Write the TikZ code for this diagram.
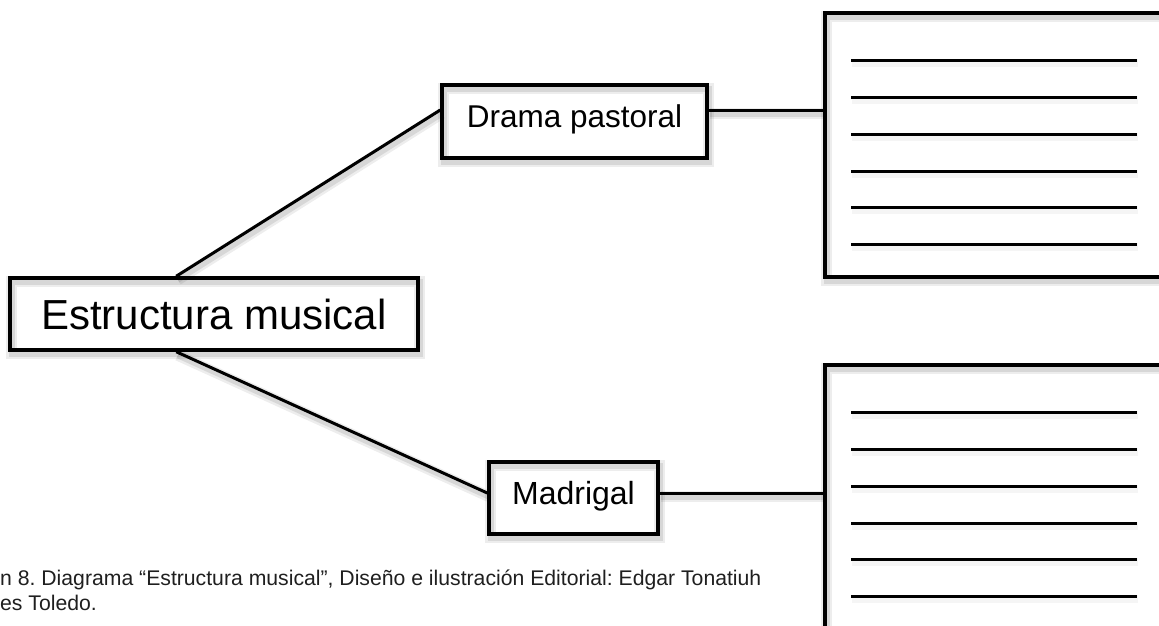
\documentclass[tikz,border=0pt]{standalone}
\usepackage{fontspec}
\setmainfont{Liberation Sans}
\usetikzlibrary{calc}
\frenchspacing
\tikzset{
  shad/.style={
    preaction={draw=black,opacity=0.07,line width=11pt,transform canvas={xshift=1.5pt,yshift=-3.5pt}},
    preaction={draw=black,opacity=0.09,line width=6pt,transform canvas={xshift=1.5pt,yshift=-3.5pt}}},
  lightshad/.style={
    preaction={draw=black,opacity=0.04,line width=8pt,transform canvas={xshift=1pt,yshift=-3pt}}},
  labelbox/.style={draw=black,line width=3.5pt,shad,inner sep=0pt,text=black},
  sheet/.style={draw=black,line width=4pt,shad,inner sep=0pt},
  conn/.style={draw=black,line width=3pt,shad},
  rule/.style={draw=black,line width=3pt,lightshad},
  captiontext/.style={font=\fontsize{21.2}{25}\selectfont,anchor=base west,inner sep=0pt,text=black!88}
}
\begin{document}
\begin{tikzpicture}[x=1pt,y=-1pt]
\fill[white] (0,0) rectangle (1159,625);
\useasboundingbox (0,0) rectangle (1159,625);
\clip (0,0) rectangle (1159,625);

% main nodes
\node[labelbox,minimum width=408pt,minimum height=72pt,font=\fontsize{42}{48}\selectfont] (est) at (214,314) {Estructura musical};
\node[labelbox,minimum width=265pt,minimum height=73pt,font=\fontsize{31.5}{36}\selectfont,text height=23pt,text depth=11pt] (drama) at (574.5,121.5) {Drama pastoral};
\node[labelbox,minimum width=169pt,minimum height=72pt,font=\fontsize{32}{37}\selectfont,text height=23pt,text depth=11pt] (madrigal) at (573.5,498) {Madrigal};

% answer sheets
\node[sheet,minimum width=345pt,minimum height=264pt] (sheetA) at (997.5,145) {};
\node[sheet,minimum width=345pt,minimum height=275pt] (sheetB) at (997.5,502.5) {};

% connection points
\coordinate (estTop) at ($(est.north west)+(168,0)$);
\coordinate (estBot) at ($(est.south west)+(168,0)$);
\coordinate (dramaL) at ($(drama.west)+(0,-11.5)$);
\coordinate (dramaR) at ($(drama.east)+(0,-11.5)$);
\coordinate (madL) at ($(madrigal.west)+(0,-5)$);
\coordinate (madR) at ($(madrigal.east)+(0,-5)$);

\draw[conn] (estTop) -- (dramaL);
\draw[conn] (estBot) -- (madL);
\draw[conn] (dramaR) -- (dramaR -| sheetA.west);
\draw[conn] (madR) -- (madR -| sheetB.west);

% ruling lines
\foreach \yy in {60,97,134,171,207,244} {
  \draw[rule] (851,\yy) -- (1137,\yy);
}
\foreach \yy in {412,449,486,523,559,596} {
  \draw[rule] (851,\yy) -- (1137,\yy);
}

% caption
\node[captiontext] (cap1) at (0,585) {n 8. Diagrama “Estructura musical”, Diseño e ilustración Editorial: Edgar Tonatiuh};
\node[captiontext] (cap2) at (0,610) {es Toledo.};
\end{tikzpicture}
\end{document}
